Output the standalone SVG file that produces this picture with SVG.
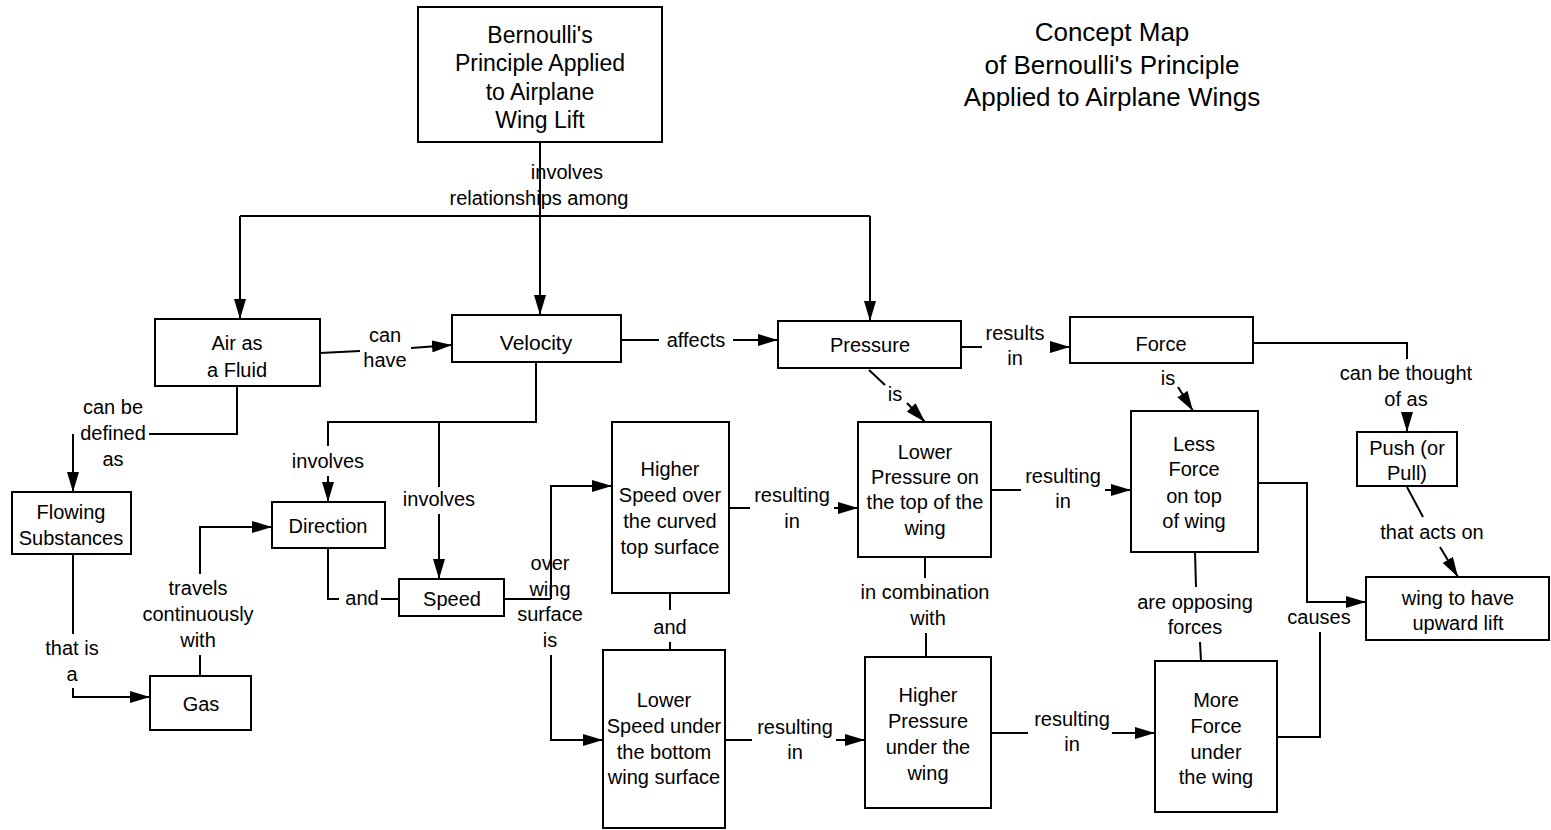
<svg xmlns="http://www.w3.org/2000/svg" width="1551" height="830" viewBox="0 0 1551 830">
<style>
.box{fill:#fff;stroke:#000;stroke-width:2}
.ln{fill:none;stroke:#000;stroke-width:2}
.arr{fill:none;stroke:#000;stroke-width:2;marker-end:url(#ah)}
text{font-family:"Liberation Sans",Arial,sans-serif;font-size:20px;text-anchor:middle;fill:#000}
.big{font-size:23px}
.title{font-size:26px}
</style>
<defs>
<marker id="ah" markerWidth="20" markerHeight="12" refX="20" refY="6" orient="auto" markerUnits="userSpaceOnUse"><path d="M0,0 L20,6 L0,12 z" fill="#000"/></marker>
</defs>
<rect width="1551" height="830" fill="#fff"/>

<g id="title">
<text class="title" x="1112" y="41">Concept Map</text>
<text class="title" x="1112" y="74">of Bernoulli's Principle</text>
<text class="title" x="1112" y="106">Applied to Airplane Wings</text>
</g>

<g id="connectors">
<path class="ln" d="M540,142 V216 M240,216 H870"/>
<path class="arr" d="M540,216 V315"/>
<path class="arr" d="M240,216 V319"/>
<path class="arr" d="M870,216 V321"/>
<text x="567" y="179">involves</text>
<text x="539" y="205">relationships among</text>

<path class="ln" d="M320,353 L360,351"/>
<path class="arr" d="M411,348 L452,345"/>
<text x="385" y="342">can</text>
<text x="385" y="367">have</text>

<path class="ln" d="M237,386 V434 H149"/>
<path class="arr" d="M73,434 V492"/>
<text x="113" y="414">can be</text>
<text x="113" y="440">defined</text>
<text x="113" y="466">as</text>

<path class="ln" d="M536,362 V422 H328 V446 M439,422 V487"/>
<path class="arr" d="M328,476 V502"/>
<path class="arr" d="M439,514 V579"/>
<text x="328" y="468">involves</text>
<text x="439" y="506">involves</text>

<path class="ln" d="M328,548 V599 H339 M381,599 H399"/>
<text x="362" y="605">and</text>

<path class="ln" d="M73,554 V634"/>
<path class="arr" d="M73,688 V697 H150"/>
<text x="72" y="655">that is</text>
<text x="72" y="681">a</text>

<path class="ln" d="M200,676 V655"/>
<path class="arr" d="M200,574 V527 H272"/>
<text x="198" y="595">travels</text>
<text x="198" y="621">continuously</text>
<text x="198" y="647">with</text>

<path class="ln" d="M504,599 H551"/>
<path class="arr" d="M551,599 V486 H612"/>
<path class="arr" d="M551,655 V740 H603"/>
<text x="550" y="570">over</text>
<text x="550" y="596">wing</text>
<text x="550" y="621">surface</text>
<text x="550" y="647">is</text>

<path class="ln" d="M729,508 H750"/>
<path class="arr" d="M834,508 H858"/>
<text x="792" y="502">resulting</text>
<text x="792" y="528">in</text>

<path class="ln" d="M670,593 V610 M670,642 V650"/>
<text x="670" y="634">and</text>

<path class="ln" d="M725,740 H752"/>
<path class="arr" d="M836,740 H865"/>
<text x="795" y="734">resulting</text>
<text x="795" y="759">in</text>

<path class="ln" d="M621,340 H659"/>
<path class="arr" d="M733,340 H778"/>
<text x="696" y="347">affects</text>

<path class="ln" d="M869,370 L885,385"/>
<path class="arr" d="M907,403 L925,422"/>
<text x="895" y="401">is</text>

<path class="ln" d="M961,347 H982"/>
<path class="arr" d="M1050,347 H1070"/>
<text x="1015" y="340">results</text>
<text x="1015" y="365">in</text>

<path class="arr" d="M1178,387 L1193,411"/>
<text x="1168" y="385">is</text>

<path class="ln" d="M991,490 H1021"/>
<path class="arr" d="M1105,490 H1131"/>
<text x="1063" y="483">resulting</text>
<text x="1063" y="508">in</text>

<path class="ln" d="M925,557 V578 M926,633 V657"/>
<text x="925" y="599">in combination</text>
<text x="928" y="625">with</text>

<path class="ln" d="M991,733 H1028"/>
<path class="arr" d="M1112,733 H1155"/>
<text x="1072" y="726">resulting</text>
<text x="1072" y="751">in</text>

<path class="ln" d="M1195,552 L1196,587 M1200,642 L1201,661"/>
<text x="1195" y="609">are opposing</text>
<text x="1195" y="634">forces</text>

<path class="arr" d="M1258,483 H1307 V602 H1366"/>
<path class="ln" d="M1277,737 H1320 V632"/>
<text x="1319" y="624">causes</text>

<path class="ln" d="M1253,343 H1407 V359"/>
<path class="arr" d="M1407,413 V432"/>
<text x="1406" y="380">can be thought</text>
<text x="1406" y="406">of as</text>

<path class="ln" d="M1407,487 L1423,517"/>
<path class="arr" d="M1440,547 L1458,577"/>
<text x="1432" y="539">that acts on</text>
</g>

<g id="n-top"><rect class="box" x="418" y="7" width="244" height="135"/>
<text class="big" x="540" y="43">Bernoulli's</text><text class="big" x="540" y="71">Principle Applied</text><text class="big" x="540" y="100">to Airplane</text><text class="big" x="540" y="128">Wing Lift</text></g>
<g id="n-air"><rect class="box" x="155" y="319" width="165" height="67"/>
<text x="237" y="350">Air as</text><text x="237" y="377">a Fluid</text></g>
<g id="n-velocity"><rect class="box" x="452" y="315" width="169" height="47"/>
<text x="536" y="350" style="font-size:21px">Velocity</text></g>
<g id="n-pressure"><rect class="box" x="778" y="321" width="183" height="47"/>
<text x="870" y="352">Pressure</text></g>
<g id="n-force"><rect class="box" x="1070" y="317" width="183" height="46"/>
<text x="1161" y="351">Force</text></g>
<g id="n-flowing"><rect class="box" x="12" y="492" width="119" height="62"/>
<text x="71" y="519">Flowing</text><text x="71" y="545">Substances</text></g>
<g id="n-direction"><rect class="box" x="272" y="502" width="113" height="46"/>
<text x="328" y="533">Direction</text></g>
<g id="n-speed"><rect class="box" x="399" y="579" width="105" height="37"/>
<text x="452" y="606">Speed</text></g>
<g id="n-gas"><rect class="box" x="150" y="676" width="101" height="54"/>
<text x="201" y="711">Gas</text></g>
<g id="n-higherspeed"><rect class="box" x="612" y="422" width="117" height="171"/>
<text x="670" y="476">Higher</text><text x="670" y="502">Speed over</text><text x="670" y="528">the curved</text><text x="670" y="554">top surface</text></g>
<g id="n-lowerspeed"><rect class="box" x="603" y="650" width="122" height="178"/>
<text x="664" y="707">Lower</text><text x="664" y="733">Speed under</text><text x="664" y="759">the bottom</text><text x="664" y="784">wing surface</text></g>
<g id="n-lowerpressure"><rect class="box" x="858" y="422" width="133" height="135"/>
<text x="925" y="459">Lower</text><text x="925" y="484">Pressure on</text><text x="925" y="509">the top of the</text><text x="925" y="535">wing</text></g>
<g id="n-higherpressure"><rect class="box" x="865" y="657" width="126" height="151"/>
<text x="928" y="702">Higher</text><text x="928" y="728">Pressure</text><text x="928" y="754">under the</text><text x="928" y="780">wing</text></g>
<g id="n-lessforce"><rect class="box" x="1131" y="411" width="127" height="141"/>
<text x="1194" y="451">Less</text><text x="1194" y="476">Force</text><text x="1194" y="503">on top</text><text x="1194" y="528">of wing</text></g>
<g id="n-moreforce"><rect class="box" x="1155" y="661" width="122" height="151"/>
<text x="1216" y="707">More</text><text x="1216" y="733">Force</text><text x="1216" y="759">under</text><text x="1216" y="784">the wing</text></g>
<g id="n-push"><rect class="box" x="1357" y="432" width="100" height="54"/>
<text x="1407" y="455">Push (or</text><text x="1407" y="480">Pull)</text></g>
<g id="n-lift"><rect class="box" x="1366" y="577" width="183" height="63"/>
<text x="1458" y="605">wing to have</text><text x="1458" y="630">upward lift</text></g>
</svg>
